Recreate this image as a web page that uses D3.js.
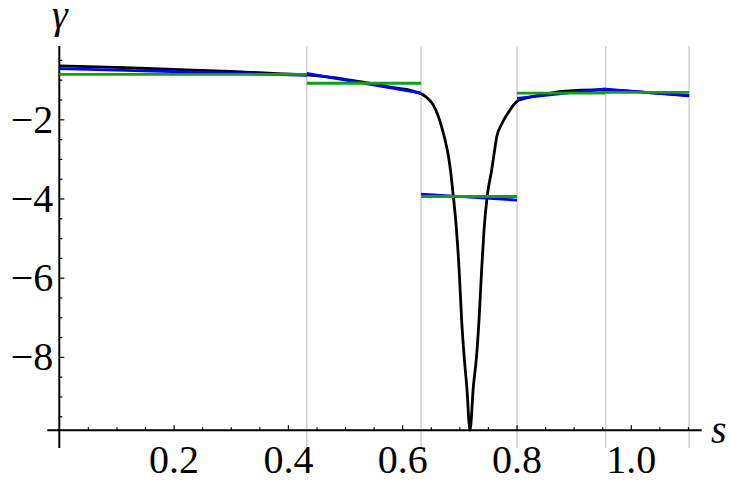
<!DOCTYPE html>
<html>
<head>
<meta charset="utf-8">
<script src="https://cdn.jsdelivr.net/npm/d3@7"></script>
<style>
  svg text { font-family: 'Liberation Serif', 'DejaVu Serif', serif !important; }
</style>
</head>
<body style="margin:0">
<div id="chart"></div>
<script>
// exact curve gamma(s)
const curveS = [0, 0.1, 0.2, 0.3, 0.374, 0.433, 0.48, 0.526, 0.56, 0.584, 0.605, 0.619,
  0.634, 0.643, 0.654, 0.662, 0.669, 0.675, 0.681, 0.685, 0.689, 0.695, 0.700, 0.704,
  0.709, 0.713, 0.7186, 0.7245, 0.730, 0.7344, 0.739, 0.7432, 0.749, 0.7566, 0.761,
  0.7654, 0.773, 0.783, 0.800, 0.813, 0.827, 0.862, 0.885, 0.943, 0.99, 1.037, 1.102];
const curveG = [-0.65, -0.69, -0.74, -0.79, -0.84, -0.88, -0.95, -1.05, -1.13, -1.20, -1.24, -1.29,
  -1.36, -1.45, -1.63, -1.88, -2.19, -2.52, -2.94, -3.35, -3.88, -4.79, -5.9, -7.07,
  -8.1, -8.75, -9.85, -8.75, -8.0, -7.07, -5.8, -4.79, -3.91, -3.28, -2.85,
  -2.44, -2.15, -1.89, -1.56, -1.48, -1.43, -1.33, -1.29, -1.26, -1.28, -1.33, -1.40];

// interval boundaries (grid lines)
const gridS = [0.433, 0.633, 0.801, 0.956, 1.102];
const segFrom = [0, 0.433, 0.633, 0.801, 0.956];
const segTo = [0.433, 0.633, 0.801, 0.956, 1.102];

// linear approximation per interval (blue)
const linStart = [-0.72, -0.84, -3.89, -1.47, -1.24];
const linEnd = [-0.89, -1.34, -4.04, -1.23, -1.41];

// constant approximation per interval (green)
const constLevel = [-0.865, -1.09, -3.95, -1.34, -1.32];

const xTicks = [0.2, 0.4, 0.6, 0.8, 1.0];
const yTicks = [-2, -4, -6, -8];

const fontFam = "'Liberation Serif'";

const svg = d3.select("#chart").append("svg")
  .attr("width", 730)
  .attr("height", 486)
  .attr("font-family", fontFam);

const x = d3.scaleLinear().domain([0, 1]).range([59.3, 630.8]);
const y = d3.scaleLinear().domain([0, -10]).range([40.1, 436.1]);

const plotTop = 46, plotBottom = 448, axisLeftEnd = 47.3, axisRightEnd = x(1.124);
const axisY = y(-9.85);

// grid lines
svg.append("g")
  .selectAll("line")
  .data(gridS)
  .join("line")
  .attr("x1", d => x(d)).attr("x2", d => x(d))
  .attr("y1", plotTop).attr("y2", plotBottom)
  .attr("stroke", "#cfcfcf")
  .attr("stroke-width", 1.5);

// x axis, minor then major ticks
const minorX = d3.range(0.05, 1.12, 0.05).filter(v => Math.abs(v * 5 - Math.round(v * 5)) > 1e-6);
svg.append("g")
  .attr("transform", `translate(0,${axisY})`)
  .call(d3.axisBottom(x).tickValues(minorX).tickSize(-3).tickFormat(""))
  .call(g => g.select(".domain").remove());

svg.append("g")
  .attr("transform", `translate(0,${axisY})`)
  .call(d3.axisBottom(x).tickValues(xTicks).tickSize(-5).tickPadding(14).tickFormat(d3.format(".1f")))
  .call(g => g.select(".domain").remove())
  .attr("font-family", null);

svg.append("line")
  .attr("x1", axisLeftEnd).attr("x2", axisRightEnd)
  .attr("y1", axisY).attr("y2", axisY)
  .attr("stroke", "#000").attr("stroke-width", 2);

// y axis
const minorY = d3.range(-0.5, -10.01, -0.5).filter(v => v % 2 != 0);
svg.append("g")
  .attr("transform", `translate(${x(0)},0)`)
  .call(d3.axisLeft(y).tickValues(minorY).tickSize(-3).tickFormat(""))
  .call(g => g.select(".domain").remove());

svg.append("g")
  .attr("transform", `translate(${x(0)},0)`)
  .call(d3.axisLeft(y).tickValues(yTicks).tickSize(-5).tickPadding(6))
  .call(g => g.select(".domain").remove())
  .attr("font-family", null);

svg.append("line")
  .attr("x1", x(0)).attr("x2", x(0))
  .attr("y1", plotTop).attr("y2", plotBottom)
  .attr("stroke", "#000").attr("stroke-width", 2);

svg.selectAll(".tick line").attr("stroke", "#000").attr("stroke-width", 1.2);
svg.selectAll(".tick text")
  .attr("font-family", fontFam)
  .attr("font-size", 40)
  .attr("fill", "#000");

// axis titles
svg.append("text")
  .attr("x", 60).attr("y", 28)
  .attr("text-anchor", "middle")
  .attr("font-family", fontFam)
  .attr("font-size", 40)
  .attr("font-style", "italic")
  .text("γ");

svg.append("text")
  .attr("x", 711).attr("y", 443)
  .attr("font-family", fontFam)
  .attr("font-size", 40)
  .attr("font-style", "italic")
  .text("s");

// curves
const curveLine = d3.line()
  .x(d => x(d[0]))
  .y(d => y(d[1]))
  .curve(d3.curveMonotoneX);

svg.append("path")
  .datum(curveS.map((s, i) => [s, curveG[i]]))
  .attr("d", curveLine)
  .attr("fill", "none")
  .attr("stroke", "#000")
  .attr("stroke-width", 2.8);

svg.append("g")
  .selectAll("line")
  .data(segFrom.map((s, i) => ({ s0: s, s1: segTo[i], g0: linStart[i], g1: linEnd[i] })))
  .join("line")
  .attr("x1", d => x(d.s0)).attr("x2", d => x(d.s1))
  .attr("y1", d => y(d.g0)).attr("y2", d => y(d.g1))
  .attr("stroke", "#0000ff")
  .attr("stroke-width", 2.8);

svg.append("g")
  .selectAll("line")
  .data(segFrom.map((s, i) => ({ s0: s, s1: segTo[i], g: constLevel[i] })))
  .join("line")
  .attr("x1", d => x(d.s0)).attr("x2", d => x(d.s1))
  .attr("y1", d => y(d.g)).attr("y2", d => y(d.g))
  .attr("stroke", "#12a012")
  .attr("stroke-width", 2.8);
</script>
</body>
</html>
